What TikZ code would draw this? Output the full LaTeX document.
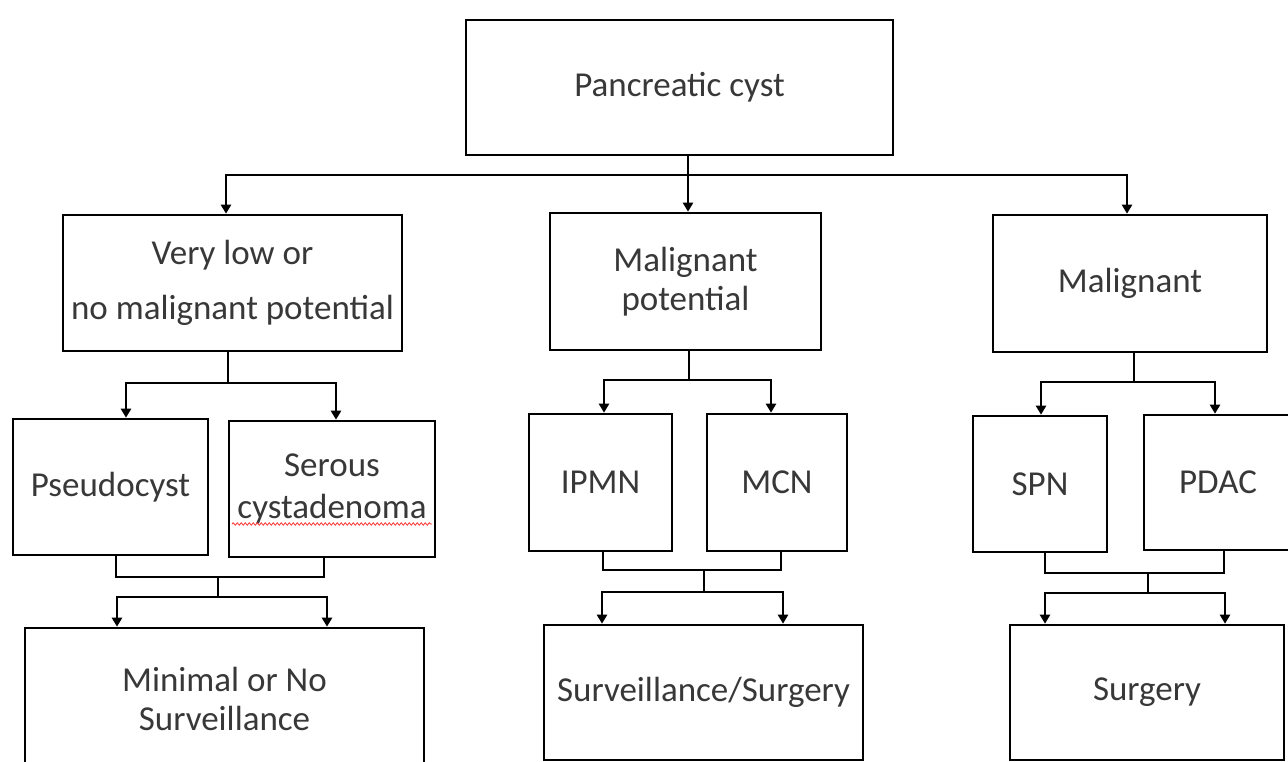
\documentclass[tikz,border=0pt]{standalone}
\usepackage{fontspec}
\setmainfont{Carlito}
\usetikzlibrary{arrows.meta,decorations.pathmorphing}
\begin{document}
\begin{tikzpicture}[x=1pt,y=-1pt,
  box/.style={draw=black,line width=2.6pt,fill=white,inner sep=0pt,align=center,
    text=black!78,font=\fontsize{35}{39}\selectfont},
  conn/.style={draw=black,line width=2.6pt},
  arr/.style={conn,-{Triangle[width=10pt,length=9pt]}}]
\fill[white] (0,0) rectangle (1288,762);
\useasboundingbox (0,0) rectangle (1288,762);
\begin{scope}
\clip (0,0) rectangle (1288,762);
% nodes
\node[box,minimum width=427pt,minimum height=135pt] (top) at (679.5,87.5) {Pancreatic cyst};
\node[box,minimum width=339pt,minimum height=136pt] (vl) at (232.5,283) {Very low or\\[16pt]no malignant potential};
\node[box,minimum width=271pt,minimum height=137pt] (mp) at (685.5,281.5) {Malignant\\potential};
\node[box,minimum width=274pt,minimum height=137pt] (ml) at (1130,283.5) {Malignant};
\node[box,minimum width=195pt,minimum height=136pt] (pc) at (110.5,487) {Pseudocyst};
\node[box,minimum width=206pt,minimum height=136pt] (sc) at (332,489) {Serous\\[3pt]cystadenoma};
\node[box,minimum width=143pt,minimum height=137pt] (ip) at (600.5,482.5) {IPMN};
\node[box,minimum width=140pt,minimum height=137pt] (mc) at (777,482.5) {MCN};
\node[box,minimum width=134pt,minimum height=136pt] (sp) at (1040,484) {SPN};
\node[box,minimum width=148pt,minimum height=135pt] (pd) at (1218,482.5) {PDAC};
\node[box,minimum width=399pt,minimum height=142pt] (mn) at (224.5,699) {Minimal or No\\Surveillance};
\node[box,minimum width=319pt,minimum height=135pt] (sv) at (703.5,692.5) {Surveillance/Surgery};
\node[box,minimum width=274pt,minimum height=135pt] (sg) at (1147,692.5) {Surgery};
% spell-check underline
\draw[red!80,line width=0.8pt,decorate,decoration={snake,amplitude=1.2pt,segment length=4pt}] (232,524) -- (432,524);
% level 1
\coordinate (b0) at (688,175);
\coordinate (b1) at (226,175);
\coordinate (b3) at (1127,175);
\draw[arr] (top.south -| b0) -- (b0 |- mp.north);
\draw[arr] (b0) -| (b1 |- vl.north);
\draw[arr] (b0) -| (b3 |- ml.north);
% left group
\coordinate (l0) at (228,383);
\coordinate (l1) at (126,383);
\coordinate (l2) at (336,383);
\draw[conn] (vl.south -| l0) -- (l0);
\draw[arr] (l0) -| (l1 |- pc.north);
\draw[arr] (l0) -| (l2 |- sc.north);
\coordinate (l3) at (116,577);
\coordinate (l4) at (324,577);
\coordinate (l5) at (218,577);
\coordinate (l6) at (218,597);
\coordinate (l7) at (117,597);
\coordinate (l8) at (327,597);
\draw[conn] (pc.south -| l3) -- (l3) -- (l4) -- (l4 |- sc.south);
\draw[conn] (l5) -- (l6);
\draw[arr] (l6) -| (l7 |- mn.north);
\draw[arr] (l6) -| (l8 |- mn.north);
% middle group
\coordinate (m0) at (689,380);
\coordinate (m1) at (604,380);
\coordinate (m2) at (771,380);
\draw[conn] (mp.south -| m0) -- (m0);
\draw[arr] (m0) -| (m1 |- ip.north);
\draw[arr] (m0) -| (m2 |- mc.north);
\coordinate (m3) at (603,570);
\coordinate (m4) at (781,570);
\coordinate (m5) at (704,570);
\coordinate (m6) at (704,592);
\coordinate (m7) at (602,592);
\coordinate (m8) at (783,592);
\draw[conn] (ip.south -| m3) -- (m3) -- (m4) -- (m4 |- mc.south);
\draw[conn] (m5) -- (m6);
\draw[arr] (m6) -| (m7 |- sv.north);
\draw[arr] (m6) -| (m8 |- sv.north);
% right group
\coordinate (r0) at (1134,382);
\coordinate (r1) at (1041,382);
\coordinate (r2) at (1215,382);
\draw[conn] (ml.south -| r0) -- (r0);
\draw[arr] (r0) -| (r1 |- sp.north);
\draw[arr] (r0) -| (r2 |- pd.north);
\coordinate (r3) at (1045,573);
\coordinate (r4) at (1224,573);
\coordinate (r5) at (1148,573);
\coordinate (r6) at (1148,593);
\coordinate (r7) at (1045,593);
\coordinate (r8) at (1225,593);
\draw[conn] (sp.south -| r3) -- (r3) -- (r4) -- (r4 |- pd.south);
\draw[conn] (r5) -- (r6);
\draw[arr] (r6) -| (r7 |- sg.north);
\draw[arr] (r6) -| (r8 |- sg.north);
\end{scope}
\end{tikzpicture}
\end{document}
